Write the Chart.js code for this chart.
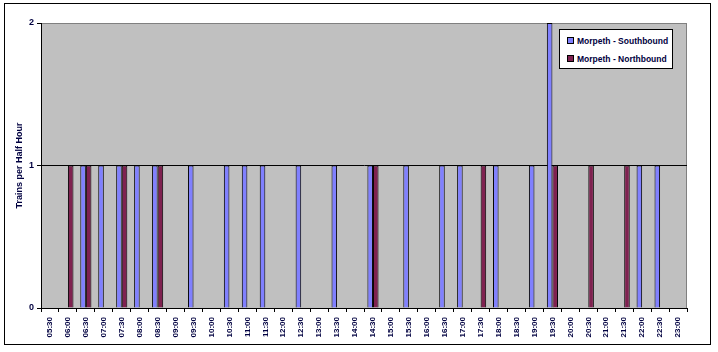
<!DOCTYPE html>
<html>
<head>
<meta charset="utf-8">
<script src="https://cdn.jsdelivr.net/npm/chart.js@4"></script>
<style>
    body { margin: 0; background: #fff; }
    #wrap { position: relative; width: 718px; height: 352px; }
    #legend {
        position: absolute; left: 559px; top: 29px; width: 112px; height: 38px;
        border: 1px solid #000; background: #fff;
        font: bold 8.5px "Liberation Sans", sans-serif; color: #000040;
    }
    #legend div { position: absolute; left: 7px; white-space: nowrap; }
    #legend span { display: inline-block; width: 5px; height: 5px; border: 1px solid #000; margin-right: 3px; vertical-align: 0px; }
</style>
</head>
<body>
<div id="wrap">
    <canvas id="trainChart" width="718" height="352"></canvas>
    <div id="legend">
        <div style="top:6px"><span style="background:#8080ff"></span>Morpeth - Southbound</div>
        <div style="top:24px"><span style="background:#7f2150"></span>Morpeth - Northbound</div>
    </div>
</div>
<script>
const times = ['05:30', '06:00', '06:30', '07:00', '07:30', '08:00', '08:30', '09:00', '09:30', '10:00',
    '10:30', '11:00', '11:30', '12:00', '12:30', '13:00', '13:30', '14:00', '14:30', '15:00',
    '15:30', '16:00', '16:30', '17:00', '17:30', '18:00', '18:30', '19:00', '19:30', '20:00',
    '20:30', '21:00', '21:30', '22:00', '22:30', '23:00'];

const southbound = [0, 0, 1, 1, 1, 1, 1, 0, 1, 0,
    1, 1, 1, 0, 1, 0, 1, 0, 1, 0,
    1, 0, 1, 1, 0, 1, 0, 1, 2, 0,
    0, 0, 0, 1, 1, 0];

const northbound = [0, 1, 1, 0, 1, 0, 1, 0, 0, 0,
    0, 0, 0, 0, 0, 0, 0, 0, 1, 0,
    0, 0, 0, 0, 1, 0, 0, 0, 1, 0,
    1, 0, 1, 0, 0, 0];

const yTicks = [0, 1, 2];

const navy = '#000040';

// frame + grey plot area
const backdrop = {
    id: 'backdrop',
    beforeDraw(chart) {
        const c = chart.ctx;
        const a = chart.chartArea;
        c.save();
        c.fillStyle = '#fff';
        c.fillRect(0, 0, chart.width, chart.height);
        c.strokeStyle = '#000';
        c.lineWidth = 1;
        c.strokeRect(4.5, 3.5, 706, 341);
        c.fillStyle = '#c0c0c0';
        c.fillRect(a.left, a.top, a.right - a.left, a.bottom - a.top);
        c.strokeStyle = '#808080';
        c.beginPath();
        c.moveTo(a.left, a.top + 0.5);
        c.lineTo(a.right - 0.5, a.top + 0.5);
        c.lineTo(a.right - 0.5, a.bottom);
        c.stroke();
        c.restore();
    }
};

const barStyle = {
    borderColor: '#000',
    borderWidth: 1,
    borderSkipped: 'start',
    categoryPercentage: 0.62,
    barPercentage: 1
};

new Chart(document.getElementById('trainChart'), {
    type: 'bar',
    data: {
        labels: times,
        datasets: [{
            label: 'Morpeth - Southbound',
            data: southbound,
            backgroundColor: '#8080ff',
            ...barStyle
        }, {
            label: 'Morpeth - Northbound',
            data: northbound,
            backgroundColor: '#7f2150',
            ...barStyle
        }]
    },
    options: {
        responsive: false,
        animation: false,
        layout: { padding: { left: 4, right: 31, top: 23, bottom: 0 } },
        plugins: {
            legend: { display: false },
            tooltip: { enabled: false }
        },
        scales: {
            x: {
                afterFit: s => { s.height = 44; },
                grid: {
                    drawOnChartArea: false,
                    drawTicks: true,
                    tickLength: 4,
                    tickColor: '#000'
                },
                border: { color: '#000' },
                ticks: {
                    autoSkip: false,
                    minRotation: 90,
                    maxRotation: 90,
                    padding: 5,
                    color: navy,
                    font: { family: 'Liberation Sans', size: 8, weight: 'bold' }
                }
            },
            y: {
                min: 0,
                max: 2,
                afterFit: s => { s.width = 37; },
                afterBuildTicks: s => { s.ticks = yTicks.map(v => ({ value: v })); },
                grid: {
                    color: ctx => ctx.tick && ctx.tick.value === 2 ? '#808080' : '#000',
                    tickLength: 4,
                    tickColor: '#000'
                },
                border: { color: '#000' },
                ticks: {
                    padding: 3,
                    color: navy,
                    font: { family: 'Liberation Sans', size: 9, weight: 'bold' }
                },
                title: {
                    display: true,
                    text: 'Trains per Half Hour',
                    color: navy,
                    padding: { top: 10, bottom: 0 },
                    font: { family: 'Liberation Sans', size: 9, weight: 'bold' }
                }
            }
        }
    },
    plugins: [backdrop]
});
</script>
</body>
</html>
